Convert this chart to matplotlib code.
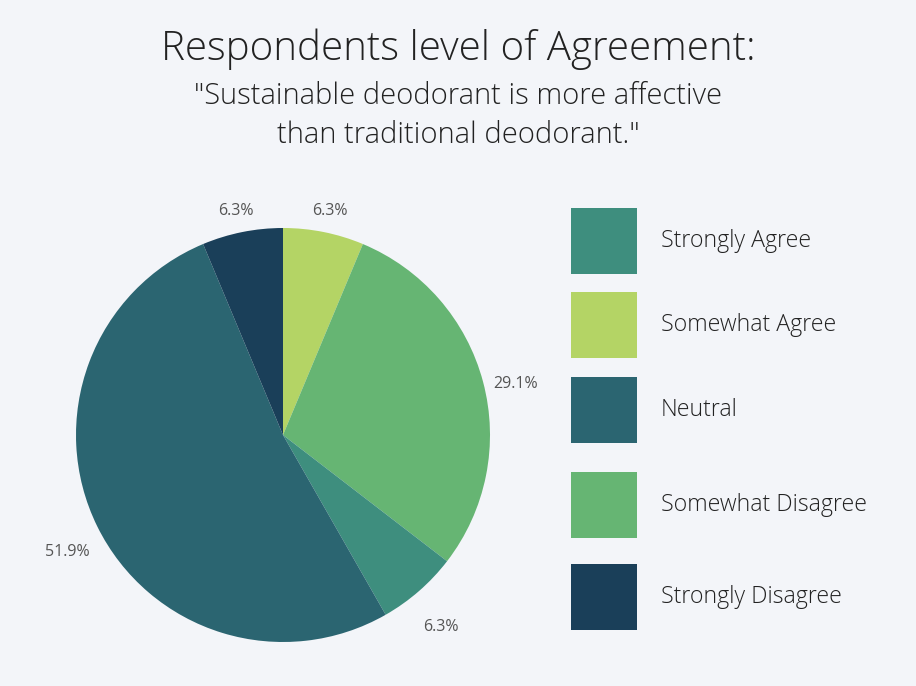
import matplotlib
matplotlib.use("Agg")
import matplotlib.pyplot as plt
from matplotlib import font_manager as fm
from matplotlib.patches import Rectangle

plt.rcParams["font.family"] = ["Open Sans", "DejaVu Sans"]

# ---- data (in drawing order, clockwise from 12 o'clock) ----
slice_labels = ["Somewhat Agree", "Somewhat Disagree", "Strongly Agree", "Neutral", "Strongly Disagree"]
slice_values = [6.3, 29.1, 6.3, 51.9, 6.3]

legend_order = ["Strongly Agree", "Somewhat Agree", "Neutral", "Somewhat Disagree", "Strongly Disagree"]
colors = {
    "Strongly Agree": "#3e8e7e",
    "Somewhat Agree": "#b4d465",
    "Neutral": "#2b6571",
    "Somewhat Disagree": "#66b573",
    "Strongly Disagree": "#1a3f59",
}

title = "Respondents level of Agreement:"
subtitle_lines = ["\"Sustainable deodorant is more affective", "than traditional deodorant.\""]

BG = "#f3f5f9"
W, H = 916, 686


def light_font(size):
    for f in fm.fontManager.ttflist:
        if f.fname.endswith("OpenSans-Light.ttf"):
            return fm.FontProperties(fname=f.fname, size=size)
    return fm.FontProperties(family="Open Sans", weight="light", size=size)


fig = plt.figure(figsize=(W / 100, H / 100), dpi=100, facecolor=BG)

# pie: centre (283, 435) px, radius 207 px
ax = fig.add_axes([(283 - 207) / W, (H - 435 - 207) / H, 414 / W, 414 / H])
ax.set_facecolor(BG)
wedges, texts, autotexts = ax.pie(
    slice_values,
    colors=[colors[l] for l in slice_labels],
    startangle=90,
    counterclock=False,
    autopct="%.1f%%",
    pctdistance=1.16,
    wedgeprops=dict(linewidth=0),
    textprops=dict(fontsize=11.5, color="#555555"),
)
for t, v in zip(autotexts, slice_values):
    t.set_text(f"{v:.1f}%")
    x, y = t.get_position()
    t.set_position((x, y - 0.053))
ax.set_xlim(-1, 1)
ax.set_ylim(-1, 1)
ax.set_aspect("equal")
ax.axis("off")

fig.text(0.5, (H - 60) / H, title, ha="center", va="baseline",
         fontproperties=light_font(29), color="#222222")
for line, base in zip(subtitle_lines, [104, 143]):
    fig.text(0.5, (H - base) / H, line, ha="center", va="baseline",
             fontproperties=light_font(21), color="#222222")

# legend drawn in pixel coordinates
lax = fig.add_axes([0, 0, 1, 1])
lax.set_xlim(0, W)
lax.set_ylim(H, 0)
lax.axis("off")
box_tops = [208, 292, 377, 472, 564]
for name, top in zip(legend_order, box_tops):
    lax.add_patch(Rectangle((571, top), 66, 66, facecolor=colors[name], edgecolor="none"))
    lax.text(661, top + 33, name, ha="left", va="center",
             fontproperties=light_font(16.7), color="#222222")

fig.savefig("out.png", dpi=100, facecolor=BG)
